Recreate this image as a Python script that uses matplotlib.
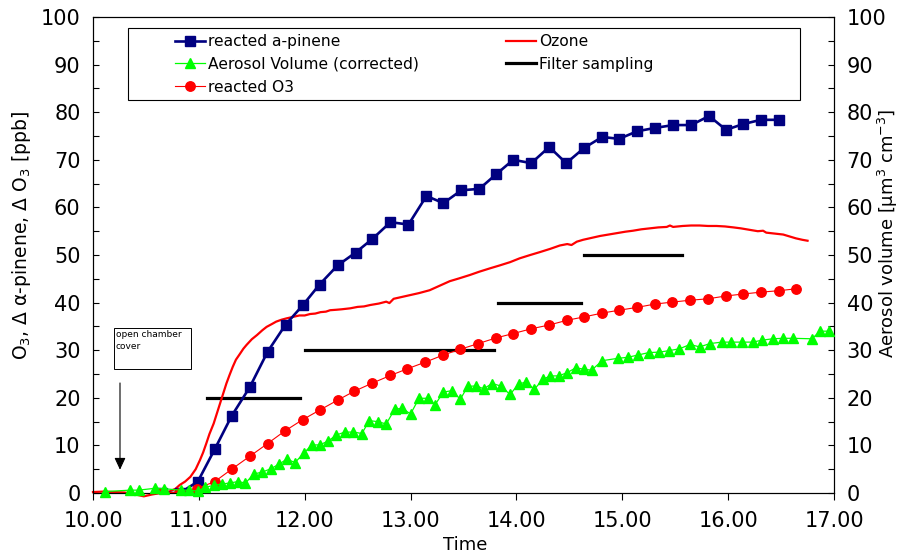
import matplotlib
matplotlib.use("Agg")
import matplotlib.pyplot as plt
from matplotlib.lines import Line2D
from matplotlib.patches import Rectangle
import numpy as np

plt.rcParams['font.family'] = ['DejaVu Sans']
plt.rcParams['mathtext.fontset'] = 'dejavusans'

# reacted a-pinene (ppb)
pinene_t = [10.65, 10.82, 10.99, 11.15, 11.31, 11.48, 11.65, 11.82, 11.98, 12.14, 12.31, 12.48,
            12.64, 12.81, 12.98, 13.15, 13.31, 13.48, 13.65, 13.81, 13.97, 14.14, 14.31, 14.47,
            14.64, 14.81, 14.97, 15.14, 15.31, 15.48, 15.65, 15.82, 15.98, 16.14, 16.31, 16.48]
pinene_v = [0.0, 0.0, 2.4, 9.2, 16.2, 22.2, 29.7, 35.4, 39.4, 43.8, 47.8, 50.5,
            53.4, 56.9, 56.4, 62.4, 60.9, 63.6, 63.9, 67.0, 70.0, 69.3, 72.7, 69.3,
            72.5, 74.8, 74.4, 76.0, 76.7, 77.3, 77.3, 79.2, 76.3, 77.5, 78.4, 78.4]

# reacted O3 (ppb)
ro3_t = [10.64, 10.81, 10.98, 11.15, 11.31, 11.48, 11.65, 11.81, 11.98, 12.14, 12.31, 12.47,
         12.64, 12.81, 12.97, 13.14, 13.31, 13.47, 13.64, 13.81, 13.97, 14.14, 14.31, 14.48,
         14.64, 14.81, 14.97, 15.14, 15.31, 15.47, 15.64, 15.81, 15.98, 16.14, 16.31, 16.48, 16.64]
ro3_v = [0.1, 0.1, 0.9, 2.4, 5.0, 7.7, 10.4, 13.0, 15.4, 17.4, 19.5, 21.4,
         23.1, 24.7, 26.1, 27.5, 29.0, 30.2, 31.4, 32.6, 33.5, 34.5, 35.3, 36.3,
         37.0, 37.8, 38.4, 39.0, 39.7, 40.1, 40.5, 40.8, 41.4, 41.8, 42.2, 42.5, 42.9]

# aerosol volume (um3 cm-3), right axis
aer_t = [10.11, 10.35, 10.43, 10.59, 10.67, 10.83, 10.91, 10.99, 11.06, 11.14, 11.22, 11.29,
         11.37, 11.44, 11.52, 11.60, 11.68, 11.76, 11.83, 11.91, 11.99, 12.07, 12.14, 12.22,
         12.30, 12.38, 12.46, 12.54, 12.61, 12.69, 12.77, 12.85, 12.92, 13.00, 13.08, 13.16,
         13.23, 13.31, 13.39, 13.47, 13.54, 13.62, 13.69, 13.77, 13.85, 13.94, 14.02, 14.09,
         14.17, 14.25, 14.32, 14.40, 14.48, 14.56, 14.64, 14.71, 14.81, 14.96, 15.05, 15.15,
         15.25, 15.35, 15.44, 15.54, 15.64, 15.73, 15.83, 15.94, 16.03, 16.13, 16.23, 16.32,
         16.42, 16.52, 16.61, 16.79, 16.87, 16.95]
aer_v = [0.3, 0.6, 0.6, 1.0, 0.9, 0.6, 0.6, 0.4, 1.2, 1.6, 1.9, 2.1,
         2.4, 2.1, 4.0, 4.4, 5.1, 6.1, 7.1, 6.4, 8.4, 10.1, 10.1, 10.9,
         12.2, 12.8, 12.8, 12.5, 15.2, 15.0, 14.5, 17.6, 17.8, 16.6, 19.9, 19.9,
         18.5, 21.2, 21.5, 19.7, 22.4, 22.5, 21.9, 23.0, 22.5, 20.7, 22.9, 23.3,
         21.8, 23.9, 24.6, 24.6, 25.3, 26.3, 26.0, 25.8, 27.8, 28.3, 28.5, 29.0,
         29.5, 29.6, 29.9, 30.3, 31.2, 30.7, 31.4, 31.7, 31.7, 31.7, 31.7, 32.1,
         32.4, 32.5, 32.5, 32.4, 34.0, 34.0]

# ozone (ppb)
ozone_t = [10.00, 10.10, 10.20, 10.30, 10.40, 10.48, 10.56, 10.64, 10.72, 10.78, 10.82, 10.87,
           10.92, 10.97, 11.01, 11.04, 11.07, 11.10, 11.14, 11.17, 11.20, 11.23, 11.26, 11.29,
           11.32, 11.35, 11.39, 11.42, 11.45, 11.50, 11.55, 11.60, 11.64, 11.69, 11.73, 11.78,
           11.83, 11.89, 11.95, 12.00, 12.05, 12.10, 12.15, 12.20, 12.24, 12.30, 12.35, 12.43,
           12.50, 12.56, 12.62, 12.70, 12.77, 12.80, 12.84, 12.92, 13.00, 13.08, 13.18, 13.27,
           13.37, 13.46, 13.56, 13.65, 13.75, 13.84, 13.94, 14.03, 14.13, 14.22, 14.32, 14.41,
           14.48, 14.52, 14.57, 14.63, 14.71, 14.79, 14.87, 14.95, 15.03, 15.10, 15.18, 15.26,
           15.34, 15.42, 15.45, 15.48, 15.57, 15.65, 15.73, 15.81, 15.89, 15.97, 16.05, 16.12,
           16.20, 16.28, 16.33, 16.36, 16.44, 16.52, 16.58, 16.64, 16.70, 16.75]
ozone_v = [0.2, 0.3, 0.2, 0.1, -0.3, -0.7, -0.3, 0.0, 0.3, 0.9, 1.7, 2.4,
           3.4, 5.0, 6.9, 8.5, 10.4, 12.4, 14.6, 16.7, 18.8, 20.9, 23.0, 24.8,
           26.5, 28.0, 29.3, 30.3, 31.1, 32.3, 33.2, 34.2, 34.9, 35.5, 36.0, 36.4,
           36.7, 37.0, 37.3, 37.3, 37.6, 37.7, 38.0, 38.1, 38.4, 38.5, 38.6, 38.8,
           39.1, 39.2, 39.5, 39.8, 40.2, 39.9, 40.8, 41.2, 41.6, 42.0, 42.6, 43.5,
           44.5, 45.1, 45.8, 46.5, 47.2, 47.8, 48.5, 49.3, 50.0, 50.6, 51.3, 52.0,
           52.3, 52.1, 52.8, 53.2, 53.6, 54.0, 54.3, 54.6, 54.9, 55.1, 55.4, 55.6,
           55.8, 55.9, 56.2, 55.9, 56.1, 56.2, 56.2, 56.1, 56.1, 56.0, 55.8, 55.6,
           55.3, 55.0, 55.1, 54.7, 54.5, 54.3, 53.9, 53.5, 53.2, 53.0]

# filter sampling periods (start, end, level)
filt_start = [11.08, 12.00, 13.83, 14.64]
filt_end = [11.96, 13.79, 14.61, 15.56]
filt_level = [20, 30, 40, 50]

navy = '#000080'
red = '#ff0000'
green = '#00ff00'

fig = plt.figure(figsize=(9.1, 5.56), dpi=100)
ax = fig.add_axes([0.1022, 0.1133, 0.8143, 0.8561])
ax2 = ax.twinx()

ft = []
fv = []
for s, e, l in zip(filt_start, filt_end, filt_level):
    ft += [s, e, np.nan]
    fv += [l, l, np.nan]
ax.plot(ft, fv, color='black', lw=2.3, zorder=1)

ax.plot(ozone_t, ozone_v, color=red, lw=1.6, zorder=2, clip_on=False)
ax.plot(pinene_t, pinene_v, color=navy, lw=1.9, marker='s', ms=6.8,
        mfc=navy, mec=navy, zorder=3)
ax.plot(ro3_t, ro3_v, color=red, lw=0.8, marker='o', ms=6.8,
        mfc=red, mec=red, zorder=4)
ax2.plot(aer_t, aer_v, color=green, lw=0.9, marker='^', ms=7,
         mfc=green, mec=green, zorder=3, clip_on=False)

ax.set_xlim(10, 17)
ax.set_ylim(0, 100)
ax2.set_ylim(0, 100)
ax.set_xticks(np.arange(10, 17.01, 1))
ax.set_xticklabels(['%.2f' % v for v in np.arange(10, 17.01, 1)])
for a in (ax, ax2):
    a.set_yticks(np.arange(0, 101, 10))
    a.set_yticks(np.arange(0, 101, 5), minor=True)
    a.tick_params(axis='y', which='both', direction='in', length=4, width=0.8,
                  labelsize=15, pad=9)
ax.tick_params(axis='x', direction='out', length=5, width=0.8, labelsize=15, pad=8)
for sp in ax.spines.values():
    sp.set_linewidth(0.8)

ax.set_xlabel('Time', fontsize=13)
ax.xaxis.set_label_coords(0.502, -0.09)
ax.set_ylabel('O$_3$, \u0394 \u03b1-pinene, \u0394 O$_3$ [ppb]', fontsize=13.5)
ax.yaxis.set_label_coords(-0.081, 0.54)
ax2.set_ylabel('Aerosol volume [\u00b5m$^3$ cm$^{-3}$]', fontsize=13)
ax2.yaxis.set_label_coords(1.056, 0.545)

# annotation: open chamber cover
ax.add_patch(Rectangle((10.198, 26.05), 0.727, 8.6, fill=False, lw=0.7,
                       edgecolor='black', zorder=5))
ax.text(10.215, 34.2, 'open chamber\ncover', fontsize=6.5, va='top', ha='left',
        linespacing=1.35, zorder=6)
ax.annotate('', xy=(10.255, 4.3), xytext=(10.255, 23.7),
            arrowprops=dict(arrowstyle='-|>,head_width=0.28,head_length=0.6',
                            color='black', lw=0.8, mutation_scale=12))

# legend: framed box with two columns
ax2.add_patch(Rectangle((0.0472, 0.8256), 0.9069, 0.1513, transform=ax2.transAxes,
                        facecolor='white', edgecolor='black', lw=0.8, zorder=4.5))
h_pin = Line2D([], [], color=navy, lw=1.9, marker='s', ms=6.8, mfc=navy, mec=navy)
h_aer = Line2D([], [], color=green, lw=0.9, marker='^', ms=7, mfc=green, mec=green)
h_ro3 = Line2D([], [], color=red, lw=0.8, marker='o', ms=6.8, mfc=red, mec=red)
h_oz = Line2D([], [], color=red, lw=1.6)
h_fil = Line2D([], [], color='black', lw=2.3)
leg_kw = dict(loc='upper left', fontsize=11.2, numpoints=1, handlelength=1.9,
              handletextpad=0.2, borderaxespad=0, borderpad=0, frameon=False,
              labelspacing=0.5)
leg1 = ax2.legend([h_pin, h_aer, h_ro3],
                  ['reacted a-pinene', 'Aerosol Volume (corrected)', 'reacted O3'],
                  bbox_to_anchor=(0.1107, 0.964), **leg_kw)
leg1.set_zorder(6)
ax2.add_artist(leg1)
leg2 = ax2.legend([h_oz, h_fil], ['Ozone', 'Filter sampling'],
                  bbox_to_anchor=(0.5574, 0.964), **leg_kw)
leg2.set_zorder(6)

fig.savefig('out.png', dpi=100)
